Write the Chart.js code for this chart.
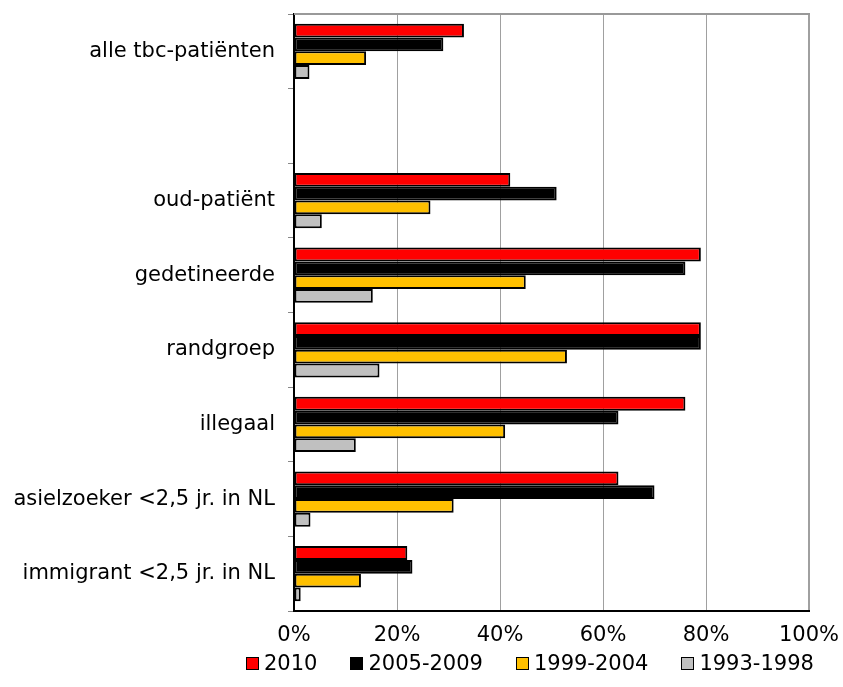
<!DOCTYPE html>
<html>
<head>
<meta charset="utf-8">
<script src="https://cdn.jsdelivr.net/npm/chart.js@4.4.0/dist/chart.umd.min.js"></script>
<style>
  html, body { margin: 0; padding: 0; background: #fff; }
  #wrap { position: relative; width: 843px; height: 687px; }
  #legend {
    position: absolute; left: 246px; top: 651px;
    display: flex; align-items: center; gap: 33px;
    font-family: "DejaVu Sans", Verdana, sans-serif; font-size: 21px; color: #000;
    white-space: nowrap;
  }
  #legend .item { display: flex; align-items: center; }
  #legend .box { width: 11px; height: 11px; border: 1.5px solid #000; margin-right: 5px; }
</style>
</head>
<body>
<div id="wrap">
  <canvas id="canvas" width="843" height="687"></canvas>
  <div id="legend"></div>
</div>
<script>
// categories top to bottom (second one is an empty spacer row)
var categories = ['alle tbc-patiënten', '', 'oud-patiënt', 'gedetineerde', 'randgroep', 'illegaal', 'asielzoeker <2,5 jr. in NL', 'immigrant <2,5 jr. in NL'];
var seriesNames = ['2010', '2005-2009', '1999-2004', '1993-1998'];
var v2010 = [33, null, 42, 79, 79, 76, 63, 22];
var v2005 = [29, null, 51, 76, 79, 63, 70, 23];
var v1999 = [14, null, 26.5, 45, 53, 41, 31, 13];
var v1993 = [3, null, 5.4, 15.3, 16.6, 12, 3.2, 1.3];
var xTicks = [0, 20, 40, 60, 80, 100];

var colors = ['#ff0000', '#000000', '#ffc000', '#c0c0c0'];
var values = [v2010, v2005, v1999, v1993];

Chart.defaults.font.family = '"DejaVu Sans", Verdana, sans-serif';
Chart.defaults.color = '#000';

// gray frame line on top of the plot
var topLine = {
  id: 'topLine',
  afterDraw: function(chart) {
    var a = chart.chartArea, c = chart.ctx;
    c.save();
    c.strokeStyle = '#999';
    c.lineWidth = 2;
    c.beginPath();
    c.moveTo(a.left, a.top);
    c.lineTo(a.right + 1, a.top);
    c.stroke();
    c.restore();
  }
};

var ctx = document.getElementById('canvas').getContext('2d');
var myChart = new Chart(ctx, {
  type: 'bar',
  data: {
    labels: categories,
    datasets: seriesNames.map(function(name, i) {
      return {
        label: name,
        data: values[i],
        backgroundColor: colors[i],
        borderColor: '#000',
        borderWidth: 2,
        borderSkipped: false,
        categoryPercentage: 0.74,
        barPercentage: 1.0
      };
    })
  },
  options: {
    indexAxis: 'y',
    responsive: false,
    animation: false,
    layout: { padding: { top: 14, right: 34, bottom: 39, left: 0 } },
    plugins: {
      tooltip: { enabled: false },
      legend: { display: false }
    },
    scales: {
      x: {
        min: 0,
        max: 100,
        afterBuildTicks: function(scale) {
          scale.ticks = xTicks.map(function(v) { return { value: v }; });
        },
        afterFit: function(scale) {
          scale.height = 37;
          scale.paddingLeft = 0;
          scale.paddingRight = 0;
        },
        ticks: {
          callback: function(v) { return v + '%'; },
          font: { size: 21 },
          padding: 12
        },
        grid: {
          color: '#a0a0a0',
          lineWidth: function(c) { return c.tick && c.tick.value === 100 ? 2 : 1; },
          drawTicks: false
        },
        border: { color: '#000', width: 2 }
      },
      y: {
        afterFit: function(scale) {
          scale.width = 294;
          scale.paddingTop = 0;
          scale.paddingBottom = 0;
        },
        ticks: { font: { size: 21 }, padding: 13 },
        grid: { drawOnChartArea: false, drawTicks: true, tickLength: 6, color: '#888' },
        border: { color: '#000', width: 2 }
      }
    }
  },
  plugins: [topLine]
});

// legend row under the axis
var legendEl = document.getElementById('legend');
seriesNames.forEach(function(name, i) {
  var item = document.createElement('span');
  item.className = 'item';
  var box = document.createElement('span');
  box.className = 'box';
  box.style.background = colors[i];
  var txt = document.createElement('span');
  txt.textContent = name;
  item.appendChild(box);
  item.appendChild(txt);
  legendEl.appendChild(item);
});
</script>
</body>
</html>
